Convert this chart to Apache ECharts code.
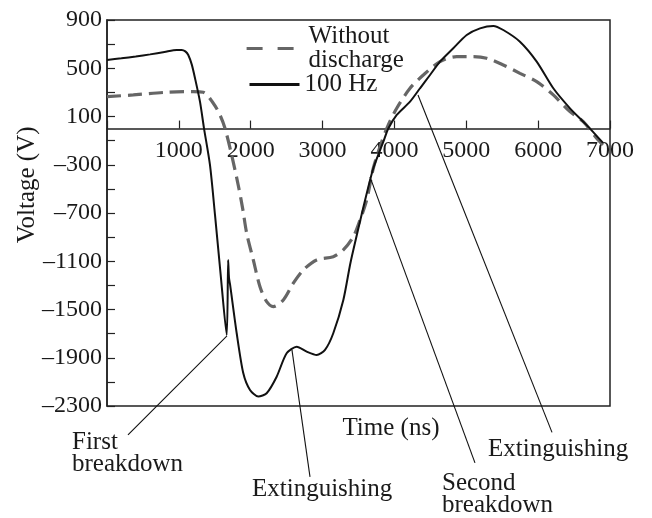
<!DOCTYPE html>
<html><head><meta charset="utf-8">
<script src="https://cdn.jsdelivr.net/npm/echarts@6/dist/echarts.min.js"></script>
<style>html,body{margin:0;padding:0;background:#fff}#c{width:652px;height:518px}</style>
</head><body><div id="c"></div>
<script>
// ---- data (time in ns, voltage in V) ----
const timeNoDischarge = [0, 366, 831, 1201, 1340, 1479, 1572, 1642, 1735, 1830, 1890, 1944, 2036, 2129, 2222, 2315, 2454, 2593, 2733, 2918, 3149, 3289, 3428, 3521, 3614, 3706, 3823, 3915, 4032, 4217, 4402, 4634, 4866, 5097, 5283, 5515, 5747, 5980, 6211, 6443, 6628, 6814, 6903];
const voltNoDischarge = [264, 279, 301, 306, 301, 210, 113, 2, -219, -480, -670, -868, -1089, -1311, -1435, -1476, -1421, -1282, -1172, -1089, -1062, -1006, -896, -758, -592, -329, -109, 30, 168, 334, 444, 555, 596, 596, 583, 527, 458, 389, 279, 140, 57, -80, -136];

const time100Hz = [0, 200, 400, 600, 800, 970, 1040, 1090, 1131, 1180, 1225, 1294, 1350, 1433, 1503, 1580, 1666, 1686, 1698, 1712, 1805, 1897, 1990, 2105, 2222, 2361, 2500, 2640, 2779, 2918, 3034, 3149, 3289, 3382, 3428, 3567, 3706, 3846, 3915, 4032, 4217, 4356, 4495, 4634, 4819, 5006, 5191, 5376, 5515, 5747, 5980, 6211, 6443, 6628, 6722, 6903];
const volt100Hz = [569, 582, 598, 615, 635, 652, 652, 640, 610, 530, 417, 223, 2, -302, -716, -1200, -1711, -1090, -1240, -1290, -1697, -2029, -2167, -2222, -2194, -2057, -1863, -1808, -1849, -1877, -1835, -1697, -1421, -1131, -1006, -654, -329, -109, 0, 113, 223, 334, 444, 555, 666, 776, 831, 851, 817, 720, 555, 334, 168, 57, 0, -119];

const seriesNames = ['Without discharge', '100 Hz'];
const xTickValues = [1000, 2000, 3000, 4000, 5000, 6000, 7000];
const yTickLabels = [900, 500, 100, -300, -700, -1100, -1500, -1900, -2300];

// annotation leader lines: [from (t,V) at curve, to (t,V) near label]
const annotationLines = [
  [[1670, -1719], [292, -2540]],
  [[2574, -1835], [2825, -2888]],
  [[3660, -401], [5121, -2772]],
  [[4328, 278], [6193, -2519]]
];
// annotation texts: text, anchor (t,V), align
const annotationTexts = [
  ['First\nbreakdown', [-487, -2697], 'left'],
  ['Extinguishing', [2018, -2988], 'left'],
  ['Extinguishing', [5302, -2664], 'left'],
  ['Second\nbreakdown', [4662, -3037], 'left'],
  ['Time (ns)', [3952, -2482], 'center']
];
const yTitle = ['Voltage (V)', [-1113, -467]];

const zip = (a, b) => a.map((v, i) => [v, b[i]]);
const FONT = 'Liberation Serif';
const TXT = '#1a1a1a';
const Y_MIN = -2300, Y_MAX = 900, GRID_TOP = 20, GRID_BOTTOM = 112, H = 518;
const gridH = H - GRID_TOP - GRID_BOTTOM;
const zeroOffset = -gridH * (0 - Y_MIN) / (Y_MAX - Y_MIN);

const chart = echarts.init(document.getElementById('c'), null, {renderer: 'canvas'});
chart.setOption({
  animation: false,
  backgroundColor: '#fff',
  grid: {left: 107, right: 42, top: GRID_TOP, bottom: GRID_BOTTOM, show: true, borderColor: '#222', borderWidth: 1.5, backgroundColor: 'transparent'},
  legend: [
    {
      data: [seriesNames[0]], left: 245, top: 24, padding: 0, orient: 'vertical',
      itemWidth: 57, itemHeight: 14, selectedMode: false,
      itemStyle: {opacity: 0},
      lineStyle: {type: [16, 15], width: 3.2},
      formatter: () => 'Without\ndischarge',
      textStyle: {fontFamily: FONT, fontSize: 25, color: TXT, lineHeight: 24, padding: [0, 0, -24, 0]}
    },
    {
      data: [seriesNames[1]], left: 248, top: 72, padding: 0, orient: 'vertical',
      itemWidth: 50, itemHeight: 14, selectedMode: false,
      itemStyle: {opacity: 0},
      lineStyle: {width: 3},
      textStyle: {fontFamily: FONT, fontSize: 25, color: TXT, lineHeight: 24}
    }
  ],
  xAxis: {
    type: 'value', min: 0, max: 7000, interval: 1000, position: 'bottom', offset: zeroOffset,
    axisLine: {onZero: false, lineStyle: {color: '#222', width: 1.5}},
    axisTick: {inside: true, length: 8, lineStyle: {color: '#222', width: 1.2}},
    axisLabel: {
      margin: 10, fontFamily: FONT, fontSize: 24, color: TXT,
      formatter: v => xTickValues.includes(v) ? String(v) : ''
    },
    splitLine: {show: false}
  },
  yAxis: {
    type: 'value', min: Y_MIN, max: Y_MAX, interval: 200,
    axisLine: {show: true, lineStyle: {color: '#222', width: 1.5}},
    axisTick: {inside: true, length: 8, lineStyle: {color: '#222', width: 1.2}},
    axisLabel: {
      margin: 5, fontFamily: FONT, fontSize: 24, color: TXT,
      formatter: v => yTickLabels.includes(v) ? (v < 0 ? '\u2013' + Math.abs(v) : String(v)) : ''
    },
    splitLine: {show: false}
  },
  series: [
    {
      name: seriesNames[0], type: 'line', data: zip(timeNoDischarge, voltNoDischarge),
      showSymbol: false, symbol: 'none', smooth: 0.3,
      lineStyle: {color: '#666', width: 3.2, type: [14, 7]},
      itemStyle: {color: '#666'}, z: 2
    },
    {
      name: seriesNames[1], type: 'line', data: zip(time100Hz, volt100Hz),
      showSymbol: false, symbol: 'none', smooth: 0.25,
      lineStyle: {color: '#111', width: 2},
      itemStyle: {color: '#111'}, z: 3
    }
  ]
});

const px = p => chart.convertToPixel({gridIndex: 0}, p);
const graphics = [];
annotationLines.forEach(([a, b]) => {
  const p1 = px(a), p2 = px(b);
  graphics.push({type: 'line', shape: {x1: p1[0], y1: p1[1], x2: p2[0], y2: p2[1]}, style: {stroke: '#111', lineWidth: 1.1}, z: 10});
});
annotationTexts.forEach(([t, p, align]) => {
  const q = px(p);
  graphics.push({type: 'text', x: q[0], y: q[1], style: {text: t, fontFamily: FONT, fontSize: 25, lineHeight: 22, fill: TXT, align: align, verticalAlign: 'middle'}, z: 10});
});
{
  const q = px(yTitle[1]);
  graphics.push({type: 'text', x: q[0], y: q[1], rotation: Math.PI / 2, style: {text: yTitle[0], fontFamily: FONT, fontSize: 25, fill: TXT, align: 'center', verticalAlign: 'middle'}, z: 10});
}
chart.setOption({graphic: graphics});
</script>
</body></html>
